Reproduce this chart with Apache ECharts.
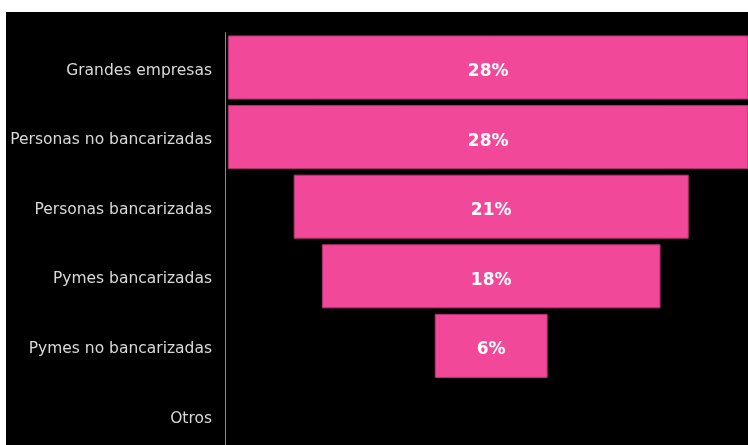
<!DOCTYPE html>
<html>
<head>
<meta charset="utf-8">
<script src="https://cdn.jsdelivr.net/npm/echarts@6/dist/echarts.min.js"></script>
<style>
html,body{margin:0;padding:0;background:#ffffff;width:748px;height:445px;overflow:hidden;}
#chart{position:absolute;left:6px;top:12px;width:742px;height:442px;background:#000;}
</style>
</head>
<body>
<div id="chart"></div>
<script>
var categories = ['Grandes empresas','Personas no bancarizadas','Personas bancarizadas','Pymes bancarizadas','Pymes no bancarizadas','Otros'];
var values = [28, 28, 21, 18, 6, null];
var maxValue = 28;

var offsets = values.map(function(v){ return v == null ? null : (maxValue - v) / 2; });

var chart = echarts.init(document.getElementById('chart'), null, {renderer:'canvas'});
chart.setOption({
  backgroundColor: '#000000',
  animation: false,
  grid: {left: 219, width: 523, top: 20.7, height: 417.6, containLabel: false, outerBoundsMode: 'none'},
  xAxis: {
    type: 'value', min: -0.15, max: 27.65, show: false
  },
  yAxis: {
    type: 'category', data: categories, inverse: true,
    axisLine: {show: true, onZero: false, lineStyle: {color: '#8a8a8a', width: 1}},
    axisTick: {show: false},
    axisLabel: {color: '#d9d9d9', fontFamily: 'DejaVu Sans', fontSize: 15.5, margin: 13, verticalAlign: 'top', lineHeight: 6}
  },
  series: [
    {
      type: 'bar', stack: 'f', data: offsets, silent: true,
      itemStyle: {color: 'rgba(0,0,0,0)'}, barCategoryGap: '8%'
    },
    {
      type: 'bar', stack: 'f', data: values, barCategoryGap: '8%',
      itemStyle: {color: '#f24899', borderColor: '#b53372', borderWidth: 1},
      label: {
        show: true, position: 'inside', color: '#ffffff', offset: [0, 4],
        fontFamily: 'DejaVu Sans', fontWeight: 'bold', fontSize: 17,
        formatter: function(p){ return p.value == null ? '' : p.value + '%'; }
      }
    }
  ]
});
</script>
</body>
</html>
